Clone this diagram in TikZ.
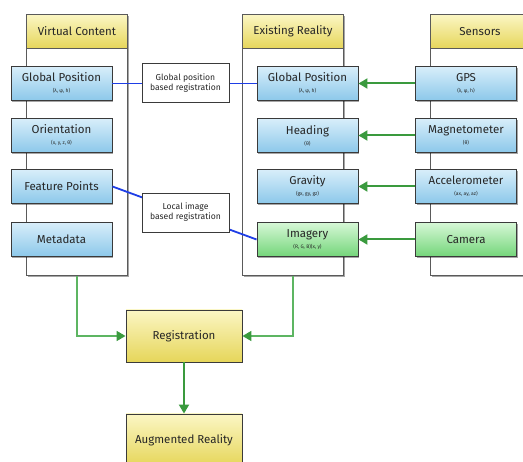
\documentclass[tikz,border=0pt]{standalone}
\usepackage{fontspec}
\setmainfont{Fira Sans}
\usetikzlibrary{shadows,arrows.meta}
\definecolor{hdrTop}{HTML}{FBF6C4}
\definecolor{hdrBot}{HTML}{E6D65A}
\definecolor{bluTop}{HTML}{D8EEFA}
\definecolor{bluBot}{HTML}{8CC8EA}
\definecolor{grnTop}{HTML}{D6F7D6}
\definecolor{grnBot}{HTML}{74D67A}
\definecolor{edge}{HTML}{3A3A3A}
\definecolor{coledge}{HTML}{5A5A5A}
\definecolor{arrowgreen}{HTML}{3A9A3E}
\definecolor{linegreen}{HTML}{5DB562}
\definecolor{regblue}{HTML}{1E3EE6}
\begin{document}
\begin{tikzpicture}[x=1pt,y=-1pt,
  shad/.style={drop shadow={shadow xshift=1.3pt,shadow yshift=-1.3pt,opacity=0.35,fill=black}},
  colbox/.style={draw=coledge,fill=white,line width=0.9pt,shad,minimum width=101pt,minimum height=261pt,anchor=north west,inner sep=0pt},
  hdrbox/.style={draw=coledge,line width=0.9pt,top color=hdrTop,bottom color=hdrBot,minimum width=101pt,minimum height=34pt,anchor=north west,inner sep=0pt,font=\fontsize{11.5}{13}\selectfont,text=black!85},
  bbox/.style={draw=edge,line width=0.9pt,top color=bluTop,bottom color=bluBot,shad,minimum width=101pt,minimum height=34pt,inner sep=0pt,align=center,font=\fontsize{11.5}{12}\selectfont,text=black!85},
  gbox/.style={bbox,top color=grnTop,bottom color=grnBot},
  ybox/.style={draw=edge,line width=0.9pt,top color=hdrTop,bottom color=hdrBot,shad,minimum width=116pt,minimum height=52pt,inner sep=0pt,align=center,font=\fontsize{11.5}{13}\selectfont,text=black!85},
  lblbox/.style={draw=edge,line width=0.8pt,fill=white,minimum width=87pt,minimum height=39pt,inner sep=1pt,align=center,font=\fontsize{8.6}{10}\selectfont,text=black!85},
  garrow/.style={draw=arrowgreen,line width=2pt,-{Triangle[length=9pt,width=10pt]}},
  gline/.style={draw=linegreen,line width=1.7pt,-{Triangle[length=9pt,width=10pt,fill=arrowgreen,color=arrowgreen]}},
  bline/.style={draw=regblue,line width=1.8pt}]
\newcommand{\subl}[1]{\\[-1pt]{\fontsize{5}{5.5}\selectfont #1}}
\useasboundingbox (0,0) rectangle (523,462);
% columns
\node[colbox] (vc) at (26,14) {};
\node[colbox] (er) at (242,14) {};
\node[colbox] (sn) at (430,14) {};
\node[hdrbox] (vch) at (26,14) {Virtual Content};
\node[hdrbox] (erh) at (242,14) {Existing Reality};
\node[hdrbox] (snh) at (430,14) {\hspace*{-2pt}Sensors};
% virtual content boxes
\node[bbox] (vgp) at (61.5,83.5) {Global Position\subl{(λ, φ, h)}};
\node[bbox] (vor) at (61.5,135.5) {Orientation\subl{(x, y, z, θ)}};
\node[bbox] (vfp) at (61.5,186.5) {Feature Points};
\node[bbox] (vmd) at (61.5,239.5) {Metadata};
% existing reality boxes
\node[bbox] (egp) at (307.5,83.5) {Global Position\subl{(λ, φ, h)}};
\node[bbox] (ehd) at (307.5,135.5) {Heading\subl{(θ)}};
\node[bbox] (egr) at (307.5,186.5) {Gravity\subl{(gx, gy, gz)}};
\node[gbox] (eim) at (307.5,239.5) {Imagery\subl{(R, G, B)(x, y)}};
% sensors
\node[bbox] (sgps) at (466,83.5) {GPS\subl{(λ, φ, h)}};
\node[bbox] (smag) at (466,135.5) {Magnetometer\subl{(θ)}};
\node[bbox] (sacc) at (466,186.5) {Accelerometer\subl{(ax, ay, az)}};
\node[gbox] (scam) at (466,239.5) {Camera};
% registration
\node[ybox] (reg) at (184,336) {Registration};
\node[ybox] (ar) at (184,440) {Augmented Reality};
% sensor arrows
\draw[garrow] (sgps) -- (egp);
\draw[garrow] (smag) -- (ehd);
\draw[garrow] (sacc) -- (egr);
\draw[garrow] (scam) -- (eim);
% bottom arrows
\draw[gline] (vc.south) |- (reg.west);
\draw[gline] (er.south) |- (reg.east);
\draw[garrow] (reg) -- (ar);
% registration lines
\draw[bline] (vgp.east) -- (egp.west);
\draw[bline] (vfp.east) -- (eim.west);
\node[lblbox] (l1) at (185.5,83) {Global position\\based registration};
\node[lblbox] (l2) at (185.5,212.5) {Local image\\based registration};
\end{tikzpicture}
\end{document}
